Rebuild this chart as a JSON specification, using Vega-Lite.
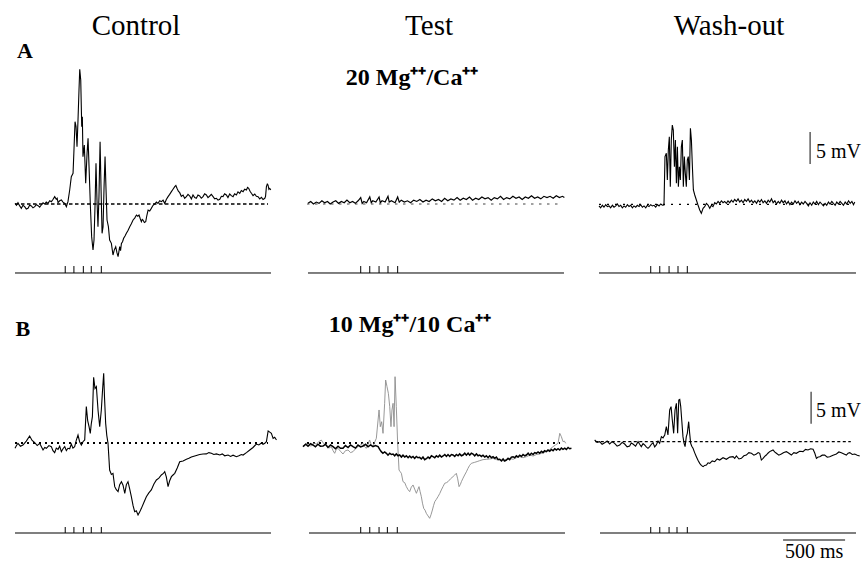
{
  "$schema": "https://vega.github.io/schema/vega-lite/v6.json",
  "background": "white",
  "padding": {"left": 12, "top": 0, "right": 0, "bottom": 0},
  "config": {"view": {"stroke": null}, "font": "Liberation Serif", "text": {"font": "Liberation Serif"}},
  "datasets": {
    "ctrlA": [{"t":0,"v":0.1},{"t":12,"v":-0.2},{"t":24,"v":0.21},{"t":38,"v":-0.3},{"t":51,"v":-0.68},{"t":64,"v":-0.2},{"t":78,"v":-0.42},{"t":91,"v":-0.8},{"t":105,"v":-0.68},{"t":118,"v":-0.2},{"t":132,"v":-0.31},{"t":145,"v":-0.6},{"t":159,"v":-0.42},{"t":172,"v":-0.1},{"t":186,"v":-0.26},{"t":199,"v":-0.5},{"t":212,"v":-0.16},{"t":226,"v":0.2},{"t":239,"v":0},{"t":252,"v":0.3},{"t":266,"v":0.1},{"t":280,"v":0.5},{"t":293,"v":0.36},{"t":306,"v":0.7},{"t":320,"v":1.15},{"t":333,"v":0.73},{"t":340,"v":0.9},{"t":347,"v":0.21},{"t":360,"v":0.5},{"t":374,"v":0.63},{"t":387,"v":0.3},{"t":401,"v":0.1},{"t":414,"v":-0.42},{"t":427,"v":0.36},{"t":441,"v":2.19},{"t":454,"v":4.27},{"t":468,"v":4.79},{"t":476,"v":8.7},{"t":484,"v":12.86},{"t":492,"v":12.08},{"t":500,"v":8.96},{"t":508,"v":13.13},{"t":516,"v":17.81},{"t":522,"v":21.04},{"t":530,"v":19.38},{"t":538,"v":12.08},{"t":543,"v":13.65},{"t":548,"v":7.4},{"t":559,"v":9.22},{"t":570,"v":3.23},{"t":581,"v":7.92},{"t":589,"v":10.26},{"t":597,"v":5.83},{"t":608,"v":-0.42},{"t":618,"v":-5.1},{"t":629,"v":-7.19},{"t":637,"v":-5.63},{"t":645,"v":-0.42},{"t":653,"v":6.35},{"t":661,"v":0.63},{"t":669,"v":-3.54},{"t":677,"v":1.15},{"t":686,"v":9.74},{"t":694,"v":2.19},{"t":702,"v":-4.58},{"t":710,"v":-3.54},{"t":718,"v":2.71},{"t":726,"v":7.4},{"t":734,"v":2.19},{"t":742,"v":-2.5},{"t":753,"v":-3.54},{"t":763,"v":-5.63},{"t":777,"v":-6.15},{"t":790,"v":-7.97},{"t":800,"v":-7.2},{"t":812,"v":-6.67},{"t":822,"v":-7.6},{"t":831,"v":-8.23},{"t":838,"v":-7.4},{"t":844,"v":-6.67},{"t":851,"v":-7.3},{"t":858,"v":-6.15},{"t":867,"v":-5.9},{"t":876,"v":-5.36},{"t":887,"v":-5.0},{"t":898,"v":-4.58},{"t":912,"v":-4.1},{"t":925,"v":-3.54},{"t":938,"v":-3.1},{"t":952,"v":-2.5},{"t":965,"v":-2.2},{"t":979,"v":-1.72},{"t":990,"v":-1.9},{"t":1000,"v":-1.72},{"t":1010,"v":-2.3},{"t":1019,"v":-2.76},{"t":1026,"v":-2.4},{"t":1032,"v":-2.5},{"t":1043,"v":-2.9},{"t":1054,"v":-2.76},{"t":1063,"v":-1.8},{"t":1073,"v":-0.94},{"t":1086,"v":-1.1},{"t":1099,"v":-0.68},{"t":1113,"v":-0.2},{"t":1126,"v":0},{"t":1140,"v":0.3},{"t":1153,"v":0.1},{"t":1167,"v":0.5},{"t":1180,"v":0.36},{"t":1194,"v":0.6},{"t":1207,"v":0.1},{"t":1220,"v":0.7},{"t":1234,"v":1.15},{"t":1247,"v":1.5},{"t":1261,"v":1.93},{"t":1274,"v":2.3},{"t":1288,"v":2.71},{"t":1297,"v":2.9},{"t":1306,"v":2.45},{"t":1317,"v":2.0},{"t":1328,"v":1.77},{"t":1341,"v":1.2},{"t":1355,"v":1.41},{"t":1368,"v":0.9},{"t":1382,"v":1.15},{"t":1395,"v":1.5},{"t":1409,"v":1.25},{"t":1422,"v":0.8},{"t":1435,"v":1.41},{"t":1449,"v":1.0},{"t":1462,"v":0.89},{"t":1475,"v":1.4},{"t":1489,"v":1.25},{"t":1502,"v":0.9},{"t":1516,"v":1.15},{"t":1529,"v":1.6},{"t":1543,"v":1.41},{"t":1556,"v":1.0},{"t":1570,"v":1.25},{"t":1583,"v":1.5},{"t":1597,"v":1.15},{"t":1610,"v":0.8},{"t":1624,"v":0.89},{"t":1637,"v":0.6},{"t":1651,"v":0.73},{"t":1664,"v":1.2},{"t":1677,"v":1.15},{"t":1690,"v":1.6},{"t":1704,"v":1.41},{"t":1717,"v":1.0},{"t":1731,"v":1.56},{"t":1744,"v":1.3},{"t":1758,"v":1.15},{"t":1771,"v":1.6},{"t":1785,"v":1.41},{"t":1798,"v":1.9},{"t":1812,"v":1.67},{"t":1825,"v":2.1},{"t":1839,"v":1.93},{"t":1852,"v":2.3},{"t":1866,"v":2.19},{"t":1875,"v":2.6},{"t":1884,"v":2.45},{"t":1895,"v":2.0},{"t":1906,"v":1.67},{"t":1919,"v":1.3},{"t":1933,"v":1.56},{"t":1946,"v":1.2},{"t":1960,"v":1.15},{"t":1973,"v":0.8},{"t":1987,"v":1.04},{"t":2000,"v":0.7},{"t":2014,"v":0.89},{"t":2020,"v":1.2},{"t":2027,"v":2.71},{"t":2034,"v":3.1},{"t":2040,"v":2.97},{"t":2047,"v":2.3},{"t":2054,"v":2.45},{"t":2062,"v":2.19}],
    "testA": [{"t":8,"v":0.1},{"t":30,"v":0.4},{"t":52,"v":0.0},{"t":75,"v":0.3},{"t":97,"v":0.1},{"t":120,"v":0.5},{"t":142,"v":0.2},{"t":165,"v":0.4},{"t":187,"v":0.0},{"t":210,"v":0.3},{"t":232,"v":0.5},{"t":255,"v":0.1},{"t":277,"v":0.4},{"t":300,"v":0.2},{"t":322,"v":0.6},{"t":345,"v":0.2},{"t":367,"v":0.4},{"t":390,"v":0.1},{"t":412,"v":0.5},{"t":433,"v":1.0},{"t":445,"v":0.1},{"t":458,"v":0.4},{"t":480,"v":0.2},{"t":506,"v":1.1},{"t":518,"v":0.2},{"t":530,"v":0.5},{"t":555,"v":0.3},{"t":581,"v":1.1},{"t":591,"v":0.2},{"t":605,"v":0.5},{"t":630,"v":0.3},{"t":653,"v":1.2},{"t":663,"v":0.3},{"t":680,"v":0.5},{"t":710,"v":0.2},{"t":731,"v":1.1},{"t":744,"v":0.3},{"t":760,"v":0.6},{"t":785,"v":0.3},{"t":810,"v":0.5},{"t":835,"v":0.2},{"t":860,"v":0.6},{"t":885,"v":0.4},{"t":910,"v":0.7},{"t":935,"v":0.3},{"t":960,"v":0.6},{"t":985,"v":0.4},{"t":1010,"v":0.8},{"t":1035,"v":0.5},{"t":1060,"v":0.7},{"t":1085,"v":0.4},{"t":1110,"v":0.9},{"t":1135,"v":0.5},{"t":1160,"v":0.8},{"t":1185,"v":0.6},{"t":1210,"v":1.0},{"t":1235,"v":0.6},{"t":1260,"v":0.9},{"t":1285,"v":0.7},{"t":1310,"v":1.1},{"t":1335,"v":0.6},{"t":1360,"v":0.9},{"t":1385,"v":0.7},{"t":1410,"v":1.1},{"t":1435,"v":0.8},{"t":1460,"v":1.0},{"t":1485,"v":0.6},{"t":1510,"v":1.0},{"t":1535,"v":0.8},{"t":1560,"v":1.2},{"t":1585,"v":0.7},{"t":1610,"v":1.0},{"t":1635,"v":0.8},{"t":1660,"v":1.2},{"t":1685,"v":0.9},{"t":1710,"v":1.1},{"t":1735,"v":0.7},{"t":1760,"v":1.1},{"t":1785,"v":0.9},{"t":1810,"v":1.3},{"t":1835,"v":0.9},{"t":1860,"v":1.1},{"t":1885,"v":0.8},{"t":1910,"v":1.2},{"t":1935,"v":1.0},{"t":1960,"v":1.2},{"t":1985,"v":0.9},{"t":2010,"v":1.3},{"t":2035,"v":1.0},{"t":2060,"v":1.2},{"t":2075,"v":1.0}],
    "washA": [{"t":0,"v":-0.3},{"t":13,"v":-0.6},{"t":27,"v":-0.2},{"t":40,"v":-0.5},{"t":54,"v":-0.1},{"t":67,"v":-0.4},{"t":81,"v":-0.3},{"t":94,"v":-0.6},{"t":108,"v":-0.2},{"t":121,"v":-0.5},{"t":135,"v":-0.3},{"t":148,"v":0.0},{"t":161,"v":-0.4},{"t":175,"v":-0.2},{"t":188,"v":-0.6},{"t":202,"v":-0.3},{"t":215,"v":-0.5},{"t":229,"v":-0.1},{"t":242,"v":-0.4},{"t":256,"v":-0.2},{"t":269,"v":-0.6},{"t":282,"v":-0.3},{"t":296,"v":-0.5},{"t":309,"v":-0.2},{"t":323,"v":-0.4},{"t":336,"v":-0.1},{"t":350,"v":-0.5},{"t":363,"v":-0.3},{"t":377,"v":-0.6},{"t":390,"v":-0.2},{"t":403,"v":-0.4},{"t":417,"v":-0.1},{"t":430,"v":-0.3},{"t":444,"v":-0.2},{"t":457,"v":-0.5},{"t":471,"v":-0.1},{"t":484,"v":-0.3},{"t":498,"v":0.0},{"t":511,"v":-0.2},{"t":524,"v":-0.16},{"t":532,"v":7.4},{"t":543,"v":7.92},{"t":551,"v":3.75},{"t":559,"v":8.44},{"t":567,"v":10.52},{"t":575,"v":2.71},{"t":583,"v":10.0},{"t":591,"v":12.34},{"t":599,"v":11.56},{"t":608,"v":5.83},{"t":616,"v":10.0},{"t":624,"v":3.23},{"t":632,"v":8.96},{"t":640,"v":2.71},{"t":648,"v":5.83},{"t":656,"v":3.75},{"t":664,"v":8.96},{"t":672,"v":10.0},{"t":680,"v":2.71},{"t":688,"v":7.4},{"t":696,"v":4.79},{"t":704,"v":2.71},{"t":712,"v":6.88},{"t":720,"v":7.4},{"t":729,"v":3.75},{"t":737,"v":11.82},{"t":745,"v":10.0},{"t":753,"v":5.83},{"t":761,"v":2.19},{"t":772,"v":1.41},{"t":785,"v":0.63},{"t":798,"v":-0.16},{"t":812,"v":-0.94},{"t":825,"v":-1.46},{"t":839,"v":-0.68},{"t":852,"v":-0.42},{"t":866,"v":0.1},{"t":879,"v":-0.16},{"t":893,"v":-0.68},{"t":906,"v":-0.2},{"t":919,"v":-0.42},{"t":933,"v":0.2},{"t":946,"v":0.0},{"t":960,"v":0.4},{"t":973,"v":0.1},{"t":987,"v":0.5},{"t":1000,"v":0.21},{"t":1013,"v":0.4},{"t":1027,"v":0.1},{"t":1040,"v":0.5},{"t":1054,"v":0.2},{"t":1067,"v":0.6},{"t":1081,"v":0.3},{"t":1094,"v":0.7},{"t":1108,"v":0.4},{"t":1121,"v":0.8},{"t":1135,"v":0.3},{"t":1148,"v":0.6},{"t":1162,"v":0.2},{"t":1175,"v":0.7},{"t":1189,"v":0.4},{"t":1202,"v":0.8},{"t":1216,"v":0.3},{"t":1229,"v":0.6},{"t":1243,"v":0.2},{"t":1256,"v":0.5},{"t":1270,"v":0.1},{"t":1283,"v":0.6},{"t":1297,"v":0.3},{"t":1310,"v":0.7},{"t":1323,"v":0.2},{"t":1337,"v":0.5},{"t":1350,"v":0.1},{"t":1364,"v":0.6},{"t":1377,"v":0.3},{"t":1391,"v":0.8},{"t":1404,"v":0.2},{"t":1418,"v":0.5},{"t":1431,"v":0.0},{"t":1445,"v":0.4},{"t":1458,"v":0.1},{"t":1472,"v":0.6},{"t":1485,"v":0.2},{"t":1499,"v":0.5},{"t":1512,"v":0.0},{"t":1526,"v":0.4},{"t":1539,"v":-0.1},{"t":1553,"v":0.3},{"t":1566,"v":0.0},{"t":1580,"v":0.5},{"t":1593,"v":0.1},{"t":1607,"v":0.4},{"t":1620,"v":-0.1},{"t":1634,"v":0.3},{"t":1647,"v":0.0},{"t":1661,"v":0.4},{"t":1674,"v":0.1},{"t":1688,"v":-0.3},{"t":1701,"v":0.2},{"t":1715,"v":-0.2},{"t":1728,"v":0.3},{"t":1742,"v":0.0},{"t":1755,"v":0.4},{"t":1769,"v":-0.1},{"t":1782,"v":0.3},{"t":1796,"v":0.0},{"t":1809,"v":-0.3},{"t":1823,"v":0.1},{"t":1836,"v":-0.2},{"t":1850,"v":0.3},{"t":1863,"v":0.0},{"t":1877,"v":0.4},{"t":1890,"v":0.1},{"t":1904,"v":-0.2},{"t":1917,"v":0.3},{"t":1931,"v":0.0},{"t":1944,"v":0.4},{"t":1958,"v":0.1},{"t":1971,"v":-0.2},{"t":1985,"v":0.3},{"t":1998,"v":0.0},{"t":2012,"v":0.5},{"t":2025,"v":0.1},{"t":2039,"v":0.4},{"t":2052,"v":-0.1},{"t":2062,"v":0.3}],
    "ctrlB": [{"t":0,"v":-0.83},{"t":12,"v":-0.4},{"t":24,"v":-0.05},{"t":44,"v":-0.5},{"t":64,"v":-0.31},{"t":91,"v":0.3},{"t":118,"v":1.09},{"t":138,"v":0.4},{"t":159,"v":0.05},{"t":179,"v":-0.4},{"t":199,"v":-0.05},{"t":213,"v":-0.6},{"t":226,"v":-1.09},{"t":240,"v":-0.7},{"t":253,"v":-0.83},{"t":273,"v":-0.4},{"t":293,"v":-0.57},{"t":306,"v":-1.2},{"t":320,"v":-1.51},{"t":333,"v":-0.8},{"t":347,"v":-0.99},{"t":360,"v":-0.5},{"t":374,"v":-1.35},{"t":387,"v":-0.9},{"t":401,"v":-0.57},{"t":414,"v":-1.2},{"t":427,"v":-0.83},{"t":441,"v":-0.9},{"t":454,"v":-0.16},{"t":467,"v":-0.8},{"t":481,"v":-0.57},{"t":494,"v":0.4},{"t":508,"v":1.25},{"t":521,"v":0.2},{"t":535,"v":-0.31},{"t":548,"v":0.2},{"t":562,"v":0.47},{"t":575,"v":5.68},{"t":586,"v":3.5},{"t":597,"v":2.55},{"t":607,"v":1.51},{"t":615,"v":3.0},{"t":624,"v":4.11},{"t":634,"v":10.26},{"t":645,"v":8.5},{"t":656,"v":8.8},{"t":670,"v":5.0},{"t":683,"v":2.55},{"t":696,"v":5.16},{"t":705,"v":8.0},{"t":715,"v":10.89},{"t":722,"v":7.0},{"t":731,"v":3.07},{"t":740,"v":1.2},{"t":750,"v":-0.05},{"t":763,"v":-4.22},{"t":777,"v":-4.9},{"t":790,"v":-4.74},{"t":804,"v":-6.82},{"t":817,"v":-7.3},{"t":831,"v":-7.6},{"t":844,"v":-6.5},{"t":858,"v":-6.04},{"t":871,"v":-6.6},{"t":885,"v":-7.86},{"t":898,"v":-6.5},{"t":911,"v":-6.04},{"t":925,"v":-7.2},{"t":938,"v":-8.39},{"t":952,"v":-9.8},{"t":965,"v":-10.73},{"t":978,"v":-10.6},{"t":992,"v":-11.25},{"t":1005,"v":-10.8},{"t":1019,"v":-10.21},{"t":1039,"v":-9.3},{"t":1059,"v":-8.39},{"t":1079,"v":-7.8},{"t":1099,"v":-7.34},{"t":1120,"v":-6.4},{"t":1140,"v":-5.78},{"t":1160,"v":-5.5},{"t":1180,"v":-5.0},{"t":1194,"v":-4.8},{"t":1207,"v":-4.48},{"t":1220,"v":-5.3},{"t":1234,"v":-6.82},{"t":1247,"v":-5.9},{"t":1261,"v":-5.26},{"t":1274,"v":-5.0},{"t":1288,"v":-4.74},{"t":1308,"v":-3.9},{"t":1328,"v":-2.92},{"t":1355,"v":-2.8},{"t":1382,"v":-2.55},{"t":1402,"v":-2.4},{"t":1422,"v":-2.2},{"t":1449,"v":-2.03},{"t":1469,"v":-1.9},{"t":1489,"v":-1.8},{"t":1516,"v":-1.72},{"t":1543,"v":-1.7},{"t":1563,"v":-1.5},{"t":1583,"v":-1.61},{"t":1603,"v":-1.8},{"t":1624,"v":-1.7},{"t":1651,"v":-1.88},{"t":1671,"v":-1.7},{"t":1691,"v":-2.0},{"t":1718,"v":-1.88},{"t":1738,"v":-2.1},{"t":1758,"v":-1.9},{"t":1785,"v":-2.14},{"t":1805,"v":-2.0},{"t":1825,"v":-1.8},{"t":1839,"v":-1.88},{"t":1866,"v":-1.5},{"t":1893,"v":-1.09},{"t":1919,"v":-0.7},{"t":1946,"v":-0.16},{"t":1966,"v":-0.3},{"t":1987,"v":0.0},{"t":2000,"v":-0.2},{"t":2014,"v":-0.05},{"t":2027,"v":0.21},{"t":2041,"v":1.88},{"t":2054,"v":1.7},{"t":2067,"v":1.51},{"t":2081,"v":0.73},{"t":2094,"v":0.9},{"t":2108,"v":0.47}],
    "testB_before": [{"t":-32,"v":-0.57},{"t":-18,"v":-0.2},{"t":-5,"v":-0.05},{"t":15,"v":-0.4},{"t":35,"v":-0.47},{"t":55,"v":0.0},{"t":75,"v":-0.16},{"t":95,"v":0.2},{"t":115,"v":0.47},{"t":135,"v":-0.1},{"t":156,"v":-0.31},{"t":176,"v":-0.8},{"t":196,"v":-0.57},{"t":210,"v":-1.2},{"t":223,"v":-1.61},{"t":236,"v":-1.0},{"t":250,"v":-0.83},{"t":270,"v":-1.3},{"t":290,"v":-1.72},{"t":310,"v":-1.2},{"t":331,"v":-1.09},{"t":351,"v":-1.5},{"t":371,"v":-1.35},{"t":391,"v":-0.9},{"t":411,"v":-0.57},{"t":431,"v":-0.3},{"t":452,"v":-0.05},{"t":465,"v":-0.6},{"t":478,"v":-0.83},{"t":492,"v":-0.2},{"t":505,"v":0.47},{"t":518,"v":-0.3},{"t":532,"v":-0.57},{"t":545,"v":0.1},{"t":559,"v":0.73},{"t":573,"v":3.59},{"t":581,"v":5.16},{"t":591,"v":2.55},{"t":602,"v":3.33},{"t":613,"v":1.51},{"t":626,"v":6.2},{"t":634,"v":9.84},{"t":645,"v":8.8},{"t":656,"v":7.76},{"t":667,"v":5.68},{"t":677,"v":2.55},{"t":685,"v":5.16},{"t":694,"v":6.2},{"t":702,"v":2.55},{"t":710,"v":10.36},{"t":720,"v":5.68},{"t":731,"v":-0.05},{"t":742,"v":-4.22},{"t":752,"v":-4.5},{"t":761,"v":-4.74},{"t":774,"v":-6.04},{"t":788,"v":-6.2},{"t":801,"v":-6.82},{"t":815,"v":-7.3},{"t":828,"v":-7.6},{"t":841,"v":-6.9},{"t":855,"v":-6.56},{"t":868,"v":-7.2},{"t":882,"v":-7.86},{"t":893,"v":-7.3},{"t":903,"v":-6.82},{"t":912,"v":-7.6},{"t":922,"v":-8.39},{"t":931,"v":-9.4},{"t":941,"v":-10.21},{"t":952,"v":-10.5},{"t":962,"v":-10.99},{"t":976,"v":-11.4},{"t":989,"v":-11.77},{"t":1000,"v":-11.2},{"t":1011,"v":-10.47},{"t":1020,"v":-9.8},{"t":1030,"v":-9.17},{"t":1043,"v":-8.8},{"t":1056,"v":-8.39},{"t":1070,"v":-7.9},{"t":1083,"v":-7.34},{"t":1097,"v":-6.8},{"t":1110,"v":-6.3},{"t":1124,"v":-6.2},{"t":1137,"v":-6.04},{"t":1157,"v":-5.6},{"t":1177,"v":-5.26},{"t":1191,"v":-5.0},{"t":1204,"v":-4.74},{"t":1215,"v":-5.6},{"t":1226,"v":-6.82},{"t":1236,"v":-6.5},{"t":1245,"v":-6.04},{"t":1258,"v":-5.5},{"t":1271,"v":-5.0},{"t":1285,"v":-4.5},{"t":1298,"v":-3.96},{"t":1311,"v":-3.5},{"t":1325,"v":-3.18},{"t":1338,"v":-3.1},{"t":1352,"v":-3.02},{"t":1372,"v":-2.9},{"t":1392,"v":-2.76},{"t":1419,"v":-2.6},{"t":1446,"v":-2.55},{"t":1473,"v":-2.5},{"t":1500,"v":-2.4},{"t":1527,"v":-2.6},{"t":1554,"v":-2.55},{"t":1580,"v":-2.8},{"t":1607,"v":-2.66},{"t":1634,"v":-2.4},{"t":1661,"v":-2.55},{"t":1688,"v":-2.3},{"t":1715,"v":-2.14},{"t":1742,"v":-2.3},{"t":1769,"v":-2.14},{"t":1796,"v":-1.9},{"t":1823,"v":-2.03},{"t":1850,"v":-1.8},{"t":1876,"v":-1.72},{"t":1903,"v":-1.5},{"t":1930,"v":-1.35},{"t":1957,"v":-1.0},{"t":1984,"v":-0.57},{"t":2004,"v":-0.3},{"t":2024,"v":-0.05},{"t":2038,"v":1.51},{"t":2051,"v":0.99},{"t":2064,"v":0.21},{"t":2075,"v":0.3},{"t":2086,"v":-0.05}],
    "testB_drug": [{"t":-32,"v":-0.57},{"t":-10,"v":-0.2},{"t":8,"v":-0.5},{"t":28,"v":-0.1},{"t":48,"v":-0.31},{"t":68,"v":-0.6},{"t":88,"v":-0.2},{"t":108,"v":-0.5},{"t":129,"v":-0.47},{"t":149,"v":-0.2},{"t":169,"v":-0.7},{"t":190,"v":-0.3},{"t":210,"v":-0.57},{"t":230,"v":-0.9},{"t":250,"v":-0.5},{"t":270,"v":-0.83},{"t":290,"v":-0.83},{"t":310,"v":-0.4},{"t":331,"v":-0.7},{"t":351,"v":-0.3},{"t":371,"v":-0.57},{"t":391,"v":-0.8},{"t":411,"v":-0.3},{"t":432,"v":-0.6},{"t":452,"v":-0.47},{"t":472,"v":-0.2},{"t":492,"v":-0.6},{"t":512,"v":-0.3},{"t":532,"v":-0.57},{"t":552,"v":-0.4},{"t":573,"v":-0.57},{"t":586,"v":-1.0},{"t":599,"v":-1.35},{"t":612,"v":-1.6},{"t":626,"v":-1.4},{"t":640,"v":-1.61},{"t":653,"v":-1.9},{"t":667,"v":-1.6},{"t":680,"v":-1.8},{"t":694,"v":-1.72},{"t":707,"v":-2.0},{"t":720,"v":-1.7},{"t":734,"v":-2.0},{"t":747,"v":-1.88},{"t":761,"v":-2.2},{"t":774,"v":-1.9},{"t":788,"v":-2.2},{"t":801,"v":-2.0},{"t":815,"v":-2.3},{"t":828,"v":-2.03},{"t":841,"v":-2.3},{"t":855,"v":-2.1},{"t":868,"v":-2.4},{"t":882,"v":-2.1},{"t":895,"v":-2.3},{"t":908,"v":-2.24},{"t":922,"v":-2.5},{"t":935,"v":-2.2},{"t":949,"v":-2.6},{"t":962,"v":-2.45},{"t":976,"v":-2.2},{"t":989,"v":-2.4},{"t":1003,"v":-2.0},{"t":1016,"v":-2.14},{"t":1030,"v":-2.3},{"t":1043,"v":-2.0},{"t":1057,"v":-2.2},{"t":1070,"v":-1.9},{"t":1084,"v":-2.2},{"t":1097,"v":-2.03},{"t":1111,"v":-1.8},{"t":1124,"v":-2.1},{"t":1137,"v":-1.8},{"t":1151,"v":-2.1},{"t":1164,"v":-1.8},{"t":1177,"v":-1.88},{"t":1191,"v":-2.1},{"t":1204,"v":-1.8},{"t":1218,"v":-2.0},{"t":1231,"v":-1.7},{"t":1245,"v":-2.0},{"t":1258,"v":-1.88},{"t":1272,"v":-1.6},{"t":1285,"v":-1.9},{"t":1299,"v":-1.6},{"t":1312,"v":-1.9},{"t":1325,"v":-1.6},{"t":1339,"v":-1.72},{"t":1352,"v":-2.0},{"t":1366,"v":-1.7},{"t":1379,"v":-2.0},{"t":1392,"v":-1.88},{"t":1406,"v":-2.1},{"t":1419,"v":-1.9},{"t":1433,"v":-2.2},{"t":1446,"v":-2.0},{"t":1460,"v":-2.3},{"t":1473,"v":-2.0},{"t":1487,"v":-2.3},{"t":1500,"v":-2.14},{"t":1514,"v":-2.4},{"t":1527,"v":-2.2},{"t":1541,"v":-2.6},{"t":1554,"v":-2.55},{"t":1567,"v":-2.8},{"t":1581,"v":-2.5},{"t":1594,"v":-2.8},{"t":1607,"v":-2.66},{"t":1621,"v":-2.4},{"t":1634,"v":-2.6},{"t":1648,"v":-2.2},{"t":1661,"v":-2.14},{"t":1675,"v":-2.3},{"t":1688,"v":-2.0},{"t":1702,"v":-2.2},{"t":1715,"v":-1.9},{"t":1729,"v":-2.1},{"t":1742,"v":-1.8},{"t":1756,"v":-2.0},{"t":1769,"v":-1.88},{"t":1783,"v":-1.6},{"t":1796,"v":-1.9},{"t":1809,"v":-1.6},{"t":1823,"v":-1.8},{"t":1836,"v":-1.5},{"t":1849,"v":-1.61},{"t":1863,"v":-1.4},{"t":1876,"v":-1.6},{"t":1890,"v":-1.3},{"t":1903,"v":-1.5},{"t":1916,"v":-1.2},{"t":1930,"v":-1.35},{"t":1943,"v":-1.1},{"t":1957,"v":-1.3},{"t":1970,"v":-1.0},{"t":1984,"v":-1.2},{"t":1997,"v":-0.9},{"t":2011,"v":-1.09},{"t":2024,"v":-0.9},{"t":2038,"v":-1.1},{"t":2051,"v":-0.8},{"t":2064,"v":-0.99},{"t":2078,"v":-0.8},{"t":2091,"v":-1.0},{"t":2105,"v":-0.7},{"t":2118,"v":-0.9},{"t":2132,"v":-0.83}],
    "washB": [{"t":-35,"v":0.47},{"t":-15,"v":0.1},{"t":5,"v":0.21},{"t":25,"v":-0.2},{"t":46,"v":0.05},{"t":66,"v":0.3},{"t":86,"v":-0.16},{"t":106,"v":0.2},{"t":126,"v":-0.05},{"t":146,"v":-0.5},{"t":167,"v":-0.31},{"t":187,"v":0.1},{"t":207,"v":-0.16},{"t":227,"v":-0.6},{"t":247,"v":-0.47},{"t":260,"v":0.0},{"t":274,"v":-0.16},{"t":295,"v":-0.5},{"t":315,"v":0.21},{"t":328,"v":-0.2},{"t":341,"v":-0.57},{"t":355,"v":-0.1},{"t":368,"v":-0.31},{"t":381,"v":-0.6},{"t":395,"v":-0.83},{"t":409,"v":-0.57},{"t":422,"v":-0.2},{"t":436,"v":0.05},{"t":449,"v":-0.6},{"t":462,"v":-0.31},{"t":476,"v":0.3},{"t":489,"v":-0.05},{"t":503,"v":0.99},{"t":516,"v":0.8},{"t":530,"v":1.25},{"t":543,"v":2.55},{"t":556,"v":1.25},{"t":570,"v":5.16},{"t":581,"v":5.68},{"t":591,"v":3.59},{"t":602,"v":1.51},{"t":613,"v":5.16},{"t":624,"v":6.2},{"t":634,"v":1.51},{"t":643,"v":6.72},{"t":651,"v":6.82},{"t":659,"v":5.68},{"t":667,"v":3.59},{"t":677,"v":0.99},{"t":686,"v":-0.05},{"t":694,"v":-0.57},{"t":704,"v":0.99},{"t":712,"v":1.51},{"t":723,"v":3.33},{"t":731,"v":1.51},{"t":739,"v":-0.05},{"t":748,"v":-0.5},{"t":758,"v":-0.83},{"t":771,"v":-1.5},{"t":785,"v":-2.14},{"t":798,"v":-2.7},{"t":812,"v":-3.18},{"t":825,"v":-3.5},{"t":839,"v":-3.7},{"t":852,"v":-3.5},{"t":866,"v":-3.44},{"t":879,"v":-3.1},{"t":893,"v":-3.18},{"t":913,"v":-2.8},{"t":933,"v":-2.92},{"t":953,"v":-2.5},{"t":973,"v":-2.66},{"t":1000,"v":-2.3},{"t":1027,"v":-2.55},{"t":1054,"v":-2.2},{"t":1081,"v":-2.14},{"t":1094,"v":-2.4},{"t":1108,"v":-2.03},{"t":1128,"v":-2.5},{"t":1148,"v":-2.4},{"t":1168,"v":-2.0},{"t":1188,"v":-1.88},{"t":1208,"v":-1.5},{"t":1229,"v":-1.61},{"t":1249,"v":-1.9},{"t":1269,"v":-1.72},{"t":1283,"v":-1.5},{"t":1296,"v":-1.61},{"t":1309,"v":-2.66},{"t":1323,"v":-2.4},{"t":1336,"v":-2.1},{"t":1349,"v":-1.88},{"t":1362,"v":-1.6},{"t":1376,"v":-1.35},{"t":1390,"v":-1.2},{"t":1403,"v":-1.09},{"t":1416,"v":-1.4},{"t":1430,"v":-1.61},{"t":1450,"v":-1.9},{"t":1470,"v":-1.72},{"t":1490,"v":-1.5},{"t":1511,"v":-1.35},{"t":1531,"v":-1.6},{"t":1551,"v":-1.88},{"t":1571,"v":-1.5},{"t":1591,"v":-1.61},{"t":1618,"v":-1.3},{"t":1645,"v":-1.35},{"t":1665,"v":-1.0},{"t":1685,"v":-1.09},{"t":1706,"v":-0.9},{"t":1726,"v":-0.99},{"t":1740,"v":-1.6},{"t":1753,"v":-2.4},{"t":1767,"v":-2.2},{"t":1780,"v":-2.14},{"t":1800,"v":-1.9},{"t":1820,"v":-1.88},{"t":1840,"v":-2.2},{"t":1860,"v":-2.14},{"t":1887,"v":-1.9},{"t":1914,"v":-1.72},{"t":1934,"v":-1.4},{"t":1954,"v":-1.51},{"t":1975,"v":-1.7},{"t":1995,"v":-1.88},{"t":2008,"v":-1.6},{"t":2022,"v":-1.51},{"t":2042,"v":-1.8},{"t":2062,"v":-1.72},{"t":2082,"v":-1.9},{"t":2102,"v":-2.03}],
    "pulses": [
      {"panel":"A-Control","t":405},{"panel":"A-Control","t":475},{"panel":"A-Control","t":551},{"panel":"A-Control","t":615},{"panel":"A-Control","t":696},
      {"panel":"A-Test","t":433},{"panel":"A-Test","t":506},{"panel":"A-Test","t":581},{"panel":"A-Test","t":653},{"panel":"A-Test","t":731},
      {"panel":"A-Wash","t":417},{"panel":"A-Wash","t":490},{"panel":"A-Wash","t":565},{"panel":"A-Wash","t":637},{"panel":"A-Wash","t":712},
      {"panel":"B-Control","t":405},{"panel":"B-Control","t":475},{"panel":"B-Control","t":551},{"panel":"B-Control","t":615},{"panel":"B-Control","t":696},
      {"panel":"B-Test","t":433},{"panel":"B-Test","t":506},{"panel":"B-Test","t":581},{"panel":"B-Test","t":648},{"panel":"B-Test","t":728},
      {"panel":"B-Wash","t":417},{"panel":"B-Wash","t":490},{"panel":"B-Wash","t":565},{"panel":"B-Wash","t":629},{"panel":"B-Wash","t":712}
    ]
  },
  "columns": 3,
  "spacing": {"row": 0, "column": 36},
  "bounds": "flush",
  "concat": [
    {
      "width": 256, "height": 290,
      "layer": [
        {"data": {"values": [{}]}, "mark": {"type": "rule", "color": "black", "strokeWidth": 1.4, "strokeDash": [3.5, 2.5]},
         "encoding": {"x": {"datum": 0, "type": "quantitative", "scale": {"domain": [0, 2064], "nice": false, "zero": false}, "axis": null}, "x2": {"datum": 2040}, "y": {"datum": 0, "type": "quantitative", "scale": {"domain": [-13.4375, 31.875], "nice": false, "zero": false}, "axis": null}}},
        {"data": {"name": "ctrlA"}, "mark": {"type": "line", "color": "black", "strokeWidth": 1.1},
         "encoding": {"x": {"field": "t", "type": "quantitative", "scale": {"domain": [0, 2064], "nice": false, "zero": false}, "axis": null}, "y": {"field": "v", "type": "quantitative", "scale": {"domain": [-13.4375, 31.875], "nice": false, "zero": false}, "axis": null}}},
        {"data": {"values": [{}]}, "mark": {"type": "rule", "color": "black", "strokeWidth": 1},
         "encoding": {"x": {"datum": 0, "type": "quantitative"}, "x2": {"datum": 2064}, "y": {"datum": -10.78, "type": "quantitative"}}},
        {"data": {"name": "pulses"}, "transform": [{"filter": "datum.panel === 'A-Control'"}], "mark": {"type": "rule", "color": "black", "strokeWidth": 1},
         "encoding": {"x": {"field": "t", "type": "quantitative"}, "y": {"datum": -10.78, "type": "quantitative"}, "y2": {"datum": -9.69}}},
        {"data": {"values": [{}]}, "mark": {"type": "text", "text": "Control", "font": "Liberation Serif", "fontSize": 29, "align": "center", "baseline": "alphabetic", "color": "black"},
         "encoding": {"x": {"datum": 976, "type": "quantitative"}, "y": {"datum": 26.41, "type": "quantitative"}}},
        {"data": {"values": [{}]}, "mark": {"type": "text", "text": "A", "font": "Liberation Serif", "fontSize": 22, "fontWeight": "bold", "align": "left", "baseline": "alphabetic", "color": "black"},
         "encoding": {"x": {"datum": 16, "type": "quantitative"}, "y": {"datum": 22.81, "type": "quantitative"}}}
      ]
    },
    {
      "width": 256, "height": 290,
      "layer": [
        {"data": {"values": [{}]}, "mark": {"type": "rule", "color": "#444", "strokeWidth": 1.2, "strokeDash": [2.5, 5.5]},
         "encoding": {"x": {"datum": 0, "type": "quantitative", "scale": {"domain": [0, 2064], "nice": false, "zero": false}, "axis": null}, "x2": {"datum": 2064}, "y": {"datum": 0, "type": "quantitative", "scale": {"domain": [-13.4375, 31.875], "nice": false, "zero": false}, "axis": null}}},
        {"data": {"name": "testA"}, "mark": {"type": "line", "color": "black", "strokeWidth": 1.2},
         "encoding": {"x": {"field": "t", "type": "quantitative", "scale": {"domain": [0, 2064], "nice": false, "zero": false}, "axis": null}, "y": {"field": "v", "type": "quantitative", "scale": {"domain": [-13.4375, 31.875], "nice": false, "zero": false}, "axis": null}}},
        {"data": {"values": [{}]}, "mark": {"type": "rule", "color": "black", "strokeWidth": 1},
         "encoding": {"x": {"datum": 8, "type": "quantitative"}, "x2": {"datum": 2072}, "y": {"datum": -10.78, "type": "quantitative"}}},
        {"data": {"name": "pulses"}, "transform": [{"filter": "datum.panel === 'A-Test'"}], "mark": {"type": "rule", "color": "black", "strokeWidth": 1},
         "encoding": {"x": {"field": "t", "type": "quantitative"}, "y": {"datum": -10.78, "type": "quantitative"}, "y2": {"datum": -9.69}}},
        {"data": {"values": [{}]}, "mark": {"type": "text", "text": "Test", "font": "Liberation Serif", "fontSize": 29, "align": "center", "baseline": "alphabetic", "color": "black"},
         "encoding": {"x": {"datum": 984, "type": "quantitative"}, "y": {"datum": 26.41, "type": "quantitative"}}},
        {"data": {"values": [{}]}, "mark": {"type": "text", "text": "20 Mg⁺⁺/Ca⁺⁺", "font": "Liberation Serif", "fontSize": 24, "fontWeight": "bold", "align": "center", "baseline": "alphabetic", "color": "black"},
         "encoding": {"x": {"datum": 847, "type": "quantitative"}, "y": {"datum": 18.59, "type": "quantitative"}}}
      ]
    },
    {
      "width": 256, "height": 290,
      "layer": [
        {"data": {"values": [{}]}, "mark": {"type": "rule", "color": "black", "strokeWidth": 1.2, "strokeDash": [2, 6]},
         "encoding": {"x": {"datum": 0, "type": "quantitative", "scale": {"domain": [0, 2064], "nice": false, "zero": false}, "axis": null}, "x2": {"datum": 2040}, "y": {"datum": -0.05, "type": "quantitative", "scale": {"domain": [-13.4375, 31.875], "nice": false, "zero": false}, "axis": null}}},
        {"data": {"name": "washA"}, "mark": {"type": "line", "color": "black", "strokeWidth": 1.1},
         "encoding": {"x": {"field": "t", "type": "quantitative", "scale": {"domain": [0, 2064], "nice": false, "zero": false}, "axis": null}, "y": {"field": "v", "type": "quantitative", "scale": {"domain": [-13.4375, 31.875], "nice": false, "zero": false}, "axis": null}}},
        {"data": {"values": [{}]}, "mark": {"type": "rule", "color": "black", "strokeWidth": 1},
         "encoding": {"x": {"datum": 0, "type": "quantitative"}, "x2": {"datum": 2072}, "y": {"datum": -10.78, "type": "quantitative"}}},
        {"data": {"name": "pulses"}, "transform": [{"filter": "datum.panel === 'A-Wash'"}], "mark": {"type": "rule", "color": "black", "strokeWidth": 1},
         "encoding": {"x": {"field": "t", "type": "quantitative"}, "y": {"datum": -10.78, "type": "quantitative"}, "y2": {"datum": -9.69}}},
        {"data": {"values": [{}]}, "mark": {"type": "text", "text": "Wash-out", "font": "Liberation Serif", "fontSize": 29, "align": "center", "baseline": "alphabetic", "color": "black"},
         "encoding": {"x": {"datum": 1048, "type": "quantitative"}, "y": {"datum": 26.41, "type": "quantitative"}}},
        {"data": {"values": [{}]}, "mark": {"type": "rule", "color": "#333", "strokeWidth": 1.2},
         "encoding": {"x": {"datum": 1702, "type": "quantitative"}, "y": {"datum": 6.25, "type": "quantitative"}, "y2": {"datum": 11.25}}},
        {"data": {"values": [{}]}, "mark": {"type": "text", "text": "5 mV", "font": "Liberation Serif", "fontSize": 20, "align": "left", "baseline": "alphabetic", "color": "black"},
         "encoding": {"x": {"datum": 1750, "type": "quantitative"}, "y": {"datum": 7.19, "type": "quantitative"}}}
      ]
    },
    {
      "width": 256, "height": 272,
      "layer": [
        {"data": {"values": [{}]}, "mark": {"type": "rule", "color": "black", "strokeWidth": 2, "strokeDash": [2, 4]},
         "encoding": {"x": {"datum": 0, "type": "quantitative", "scale": {"domain": [0, 2064], "nice": false, "zero": false}, "axis": null}, "x2": {"datum": 2040}, "y": {"datum": 0, "type": "quantitative", "scale": {"domain": [-18.59375, 23.90625], "nice": false, "zero": false}, "axis": null}}},
        {"data": {"name": "ctrlB"}, "mark": {"type": "line", "color": "black", "strokeWidth": 1.1},
         "encoding": {"x": {"field": "t", "type": "quantitative", "scale": {"domain": [0, 2064], "nice": false, "zero": false}, "axis": null}, "y": {"field": "v", "type": "quantitative", "scale": {"domain": [-18.59375, 23.90625], "nice": false, "zero": false}, "axis": null}}},
        {"data": {"values": [{}]}, "mark": {"type": "rule", "color": "black", "strokeWidth": 1.2},
         "encoding": {"x": {"datum": 0, "type": "quantitative"}, "x2": {"datum": 2064}, "y": {"datum": -14.06, "type": "quantitative"}}},
        {"data": {"name": "pulses"}, "transform": [{"filter": "datum.panel === 'B-Control'"}], "mark": {"type": "rule", "color": "black", "strokeWidth": 1},
         "encoding": {"x": {"field": "t", "type": "quantitative"}, "y": {"datum": -14.06, "type": "quantitative"}, "y2": {"datum": -13.125}}},
        {"data": {"values": [{}]}, "mark": {"type": "text", "text": "B", "font": "Liberation Serif", "fontSize": 22, "fontWeight": "bold", "align": "left", "baseline": "alphabetic", "color": "black"},
         "encoding": {"x": {"datum": 4, "type": "quantitative"}, "y": {"datum": 16.72, "type": "quantitative"}}}
      ]
    },
    {
      "width": 256, "height": 272,
      "layer": [
        {"data": {"values": [{}]}, "mark": {"type": "rule", "color": "black", "strokeWidth": 2, "strokeDash": [2, 4]},
         "encoding": {"x": {"datum": 0, "type": "quantitative", "scale": {"domain": [0, 2064], "nice": false, "zero": false}, "axis": null}, "x2": {"datum": 2040}, "y": {"datum": 0, "type": "quantitative", "scale": {"domain": [-18.59375, 23.90625], "nice": false, "zero": false}, "axis": null}}},
        {"data": {"name": "testB_before"}, "mark": {"type": "line", "color": "#8c8c8c", "strokeWidth": 0.9},
         "encoding": {"x": {"field": "t", "type": "quantitative", "scale": {"domain": [0, 2064], "nice": false, "zero": false}, "axis": null}, "y": {"field": "v", "type": "quantitative", "scale": {"domain": [-18.59375, 23.90625], "nice": false, "zero": false}, "axis": null}}},
        {"data": {"name": "testB_drug"}, "mark": {"type": "line", "color": "black", "strokeWidth": 1.5},
         "encoding": {"x": {"field": "t", "type": "quantitative"}, "y": {"field": "v", "type": "quantitative"}}},
        {"data": {"values": [{}]}, "mark": {"type": "rule", "color": "black", "strokeWidth": 1.2},
         "encoding": {"x": {"datum": 16, "type": "quantitative"}, "x2": {"datum": 2080}, "y": {"datum": -14.06, "type": "quantitative"}}},
        {"data": {"name": "pulses"}, "transform": [{"filter": "datum.panel === 'B-Test'"}], "mark": {"type": "rule", "color": "black", "strokeWidth": 1},
         "encoding": {"x": {"field": "t", "type": "quantitative"}, "y": {"datum": -14.06, "type": "quantitative"}, "y2": {"datum": -13.125}}},
        {"data": {"values": [{}]}, "mark": {"type": "text", "text": "10 Mg⁺⁺/10 Ca⁺⁺", "font": "Liberation Serif", "fontSize": 24, "fontWeight": "bold", "align": "center", "baseline": "alphabetic", "color": "black"},
         "encoding": {"x": {"datum": 831, "type": "quantitative"}, "y": {"datum": 17.34, "type": "quantitative"}}}
      ]
    },
    {
      "width": 256, "height": 272,
      "layer": [
        {"data": {"values": [{}]}, "mark": {"type": "rule", "color": "black", "strokeWidth": 1.3, "strokeDash": [3, 2.5]},
         "encoding": {"x": {"datum": -30, "type": "quantitative", "scale": {"domain": [0, 2064], "nice": false, "zero": false}, "axis": null}, "x2": {"datum": 2030}, "y": {"datum": 0.2, "type": "quantitative", "scale": {"domain": [-18.59375, 23.90625], "nice": false, "zero": false}, "axis": null}}},
        {"data": {"name": "washB"}, "mark": {"type": "line", "color": "black", "strokeWidth": 1.1},
         "encoding": {"x": {"field": "t", "type": "quantitative", "scale": {"domain": [0, 2064], "nice": false, "zero": false}, "axis": null}, "y": {"field": "v", "type": "quantitative", "scale": {"domain": [-18.59375, 23.90625], "nice": false, "zero": false}, "axis": null}}},
        {"data": {"values": [{}]}, "mark": {"type": "rule", "color": "black", "strokeWidth": 1.2},
         "encoding": {"x": {"datum": 8, "type": "quantitative"}, "x2": {"datum": 2072}, "y": {"datum": -14.06, "type": "quantitative"}}},
        {"data": {"name": "pulses"}, "transform": [{"filter": "datum.panel === 'B-Wash'"}], "mark": {"type": "rule", "color": "black", "strokeWidth": 1},
         "encoding": {"x": {"field": "t", "type": "quantitative"}, "y": {"datum": -14.06, "type": "quantitative"}, "y2": {"datum": -13.125}}},
        {"data": {"values": [{}]}, "mark": {"type": "rule", "color": "#333", "strokeWidth": 1.2},
         "encoding": {"x": {"datum": 1710, "type": "quantitative"}, "y": {"datum": 3.0, "type": "quantitative"}, "y2": {"datum": 8.0}}},
        {"data": {"values": [{}]}, "mark": {"type": "text", "text": "5 mV", "font": "Liberation Serif", "fontSize": 20, "align": "left", "baseline": "alphabetic", "color": "black"},
         "encoding": {"x": {"datum": 1750, "type": "quantitative"}, "y": {"datum": 4.06, "type": "quantitative"}}},
        {"data": {"values": [{}]}, "mark": {"type": "rule", "color": "black", "strokeWidth": 1.2},
         "encoding": {"x": {"datum": 1484, "type": "quantitative"}, "x2": {"datum": 1984}, "y": {"datum": -15.16, "type": "quantitative"}}},
        {"data": {"values": [{}]}, "mark": {"type": "text", "text": "500 ms", "font": "Liberation Serif", "fontSize": 20, "align": "center", "baseline": "alphabetic", "color": "black"},
         "encoding": {"x": {"datum": 1734, "type": "quantitative"}, "y": {"datum": -17.97, "type": "quantitative"}}}
      ]
    }
  ]
}
